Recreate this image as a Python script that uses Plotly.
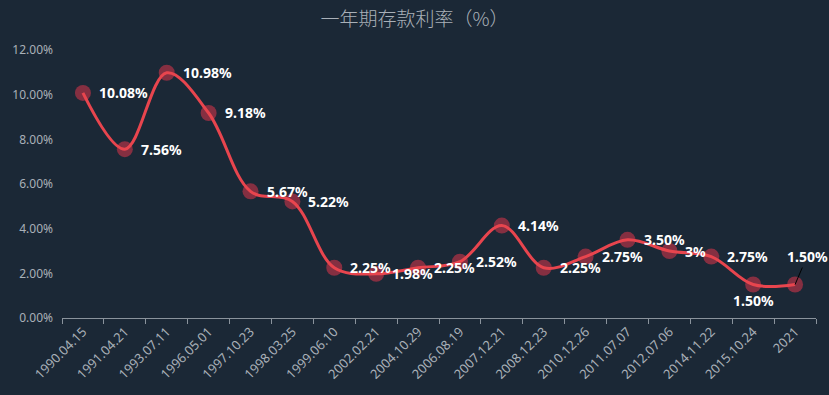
import plotly.graph_objects as go

dates = ["1990.04.15", "1991.04.21", "1993.07.11", "1996.05.01", "1997.10.23",
         "1998.03.25", "1999.06.10", "2002.02.21", "2004.10.29", "2006.08.19",
         "2007.12.21", "2008.12.23", "2010.12.26", "2011.07.07", "2012.07.06",
         "2014.11.22", "2015.10.24", "2021"]
rates = [10.08, 7.56, 10.98, 9.18, 5.67, 5.22, 2.25, 1.98, 2.25, 2.52,
         4.14, 2.25, 2.75, 3.50, 3.00, 2.75, 1.50, 1.50]
labels = ["10.08%", "7.56%", "10.98%", "9.18%", "5.67%", "5.22%", "2.25%", "1.98%",
          "2.25%", "2.52%", "4.14%", "2.25%", "2.75%", "3.50%", "3%", "2.75%",
          "1.50%", "1.50%"]
y_ticks = [0, 2, 4, 6, 8, 10, 12]
y_tick_text = ["0.00%", "2.00%", "4.00%", "6.00%", "8.00%", "10.00%", "12.00%"]

bg = "#1b2836"
label_font = dict(family="Noto Sans", size=14, color="white", weight="bold")

fig = go.Figure()
fig.add_trace(go.Scatter(
    x=dates, y=rates, mode="markers",
    marker=dict(size=16, color="rgba(190,50,72,0.65)", line=dict(width=0)),
    hoverinfo="skip", showlegend=False, cliponaxis=False,
))
fig.add_trace(go.Scatter(
    x=dates, y=rates, mode="lines",
    line=dict(color="#e8454e", width=3, shape="spline", smoothing=1.0),
    showlegend=False,
))

last = len(dates) - 1
for i, (v, t) in enumerate(zip(rates, labels)):
    if i == last:
        fig.add_annotation(
            x=i, y=v, xref="x", yref="y", text=t, showarrow=True,
            arrowhead=0, arrowwidth=1, arrowcolor="black", ax=12, ay=-28,
            font=label_font, standoff=0,
        )
    elif i == last - 1:
        fig.add_annotation(
            x=i, y=v, xref="x", yref="y", text=t, showarrow=False,
            xanchor="center", yanchor="middle", yshift=-16, font=label_font,
        )
    else:
        fig.add_annotation(
            x=i, y=v, xref="x", yref="y", text=t, showarrow=False,
            xanchor="left", yanchor="middle", xshift=14, font=label_font,
        )

fig.update_layout(
    width=829, height=395,
    paper_bgcolor=bg, plot_bgcolor=bg,
    margin=dict(l=60, r=13, t=50, b=76),
    title=dict(text="一年期存款利率（%）", x=0.5, xanchor="center", y=0.95, yanchor="middle",
               font=dict(family="Noto Sans CJK SC", size=19, color="#a9b0b8", weight=300)),
    xaxis=dict(
        type="category", range=[-0.5, len(dates) - 0.5],
        showgrid=False, showline=True, linecolor="#8a939c", linewidth=1,
        ticks="outside", ticklen=5, tickcolor="#8a939c", tickson="boundaries",
        tickangle=-45, tickfont=dict(family="Noto Sans", size=13, color="#a9b0b8"),
        zeroline=False,
    ),
    yaxis=dict(
        range=[0, 12], tickvals=y_ticks, ticktext=y_tick_text,
        showgrid=False, zeroline=False, showline=False,
        tickfont=dict(family="Noto Sans", size=12, color="#a9b0b8"),
        ticks="", ticklabelstandoff=8,
    ),
)
fig.write_html("out.html", config={"displayModeBar": False},
               post_script="document.body.style.margin='0';document.body.style.background='%s';" % bg)
